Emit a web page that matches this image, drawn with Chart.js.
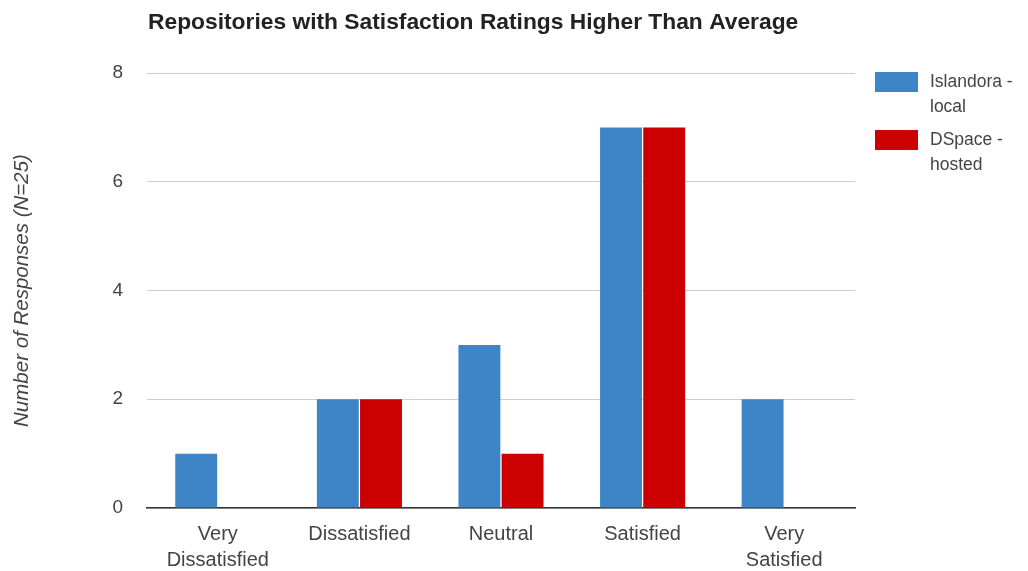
<!DOCTYPE html>
<html>
<head>
<meta charset="utf-8">
<script src="https://cdn.jsdelivr.net/npm/chart.js@4/dist/chart.umd.min.js"></script>
<style>
  html, body { margin: 0; padding: 0; background: #fff; }
  #wrap { width: 1028px; height: 571px; position: relative; }
</style>
</head>
<body>
<div id="wrap"><canvas id="chart"></canvas></div>
<script>
const chartTitle = 'Repositories with Satisfaction Ratings Higher Than Average'
const yTitle = 'Number of Responses (N=25)'
const categories = [['Very', 'Dissatisfied'], 'Dissatisfied', 'Neutral', 'Satisfied', ['Very', 'Satisfied']]
const islandoraLocal = [1, 2, 3, 7, 2]
const dspaceHosted = [0, 2, 1, 7, 0]
const seriesLabels = [['Islandora -', 'local'], ['DSpace -', 'hosted']]
const seriesColors = ['#3d85c6', '#cc0000']
const yTicks = [0, 2, 4, 6, 8]

const FONT = '"Liberation Sans", Arial, sans-serif'

// title + wrapped legend drawn by hand (Chart.js legend can't wrap text)
const extras = {
  id: 'extras',
  afterDraw(chart) {
    const { ctx, chartArea } = chart
    ctx.save()
    ctx.fillStyle = '#222'
    ctx.font = `bold 22.8px ${FONT}`
    ctx.textBaseline = 'middle'
    ctx.textAlign = 'left'
    ctx.fillText(chartTitle, chartArea.left + 1, 23)

    let y = chartArea.top - 1
    ctx.font = `17.5px ${FONT}`
    seriesLabels.forEach((lines, i) => {
      ctx.fillStyle = seriesColors[i]
      ctx.fillRect(chartArea.right + 20, y, 43, 20)
      ctx.fillStyle = '#444'
      lines.forEach((t, j) => ctx.fillText(t, chartArea.right + 75, y + 10 + j * 25))
      y += 58
    })
    ctx.restore()
  },
}

new Chart(document.getElementById('chart'), {
  type: 'bar',
  data: {
    labels: categories,
    datasets: [
      { label: 'Islandora - local', data: islandoraLocal, backgroundColor: seriesColors[0] },
      { label: 'DSpace - hosted', data: dspaceHosted, backgroundColor: seriesColors[1] },
    ],
  },
  options: {
    responsive: true,
    maintainAspectRatio: false,
    animation: false,
    categoryPercentage: 0.61,
    barPercentage: 0.97,
    layout: { padding: { top: 73, right: 173, left: 10, bottom: 0 } },
    plugins: {
      legend: { display: false },
      tooltip: { enabled: false },
    },
    scales: {
      x: {
        grid: { display: false },
        border: { color: '#333', width: 1.5 },
        ticks: { color: '#444', font: { family: FONT, size: 20, lineHeight: 1.3 }, padding: 5, maxRotation: 0, autoSkip: false },
        afterFit(scale) { scale.height = 63 },
      },
      y: {
        min: 0,
        max: 8,
        afterBuildTicks(scale) { scale.ticks = yTicks.map((v) => ({ value: v })) },
        grid: { color: '#cccccc', drawTicks: false },
        border: { display: false },
        ticks: { color: '#444', font: { family: FONT, size: 19 }, padding: 24 },
        title: {
          display: true,
          text: yTitle,
          color: '#444',
          font: { family: FONT, size: 20.5, style: 'italic' },
          padding: { top: 0, bottom: 0 },
        },
        afterFit(scale) { scale.width = 137 },
      },
    },
  },
  plugins: [extras],
})
</script>
</body>
</html>
